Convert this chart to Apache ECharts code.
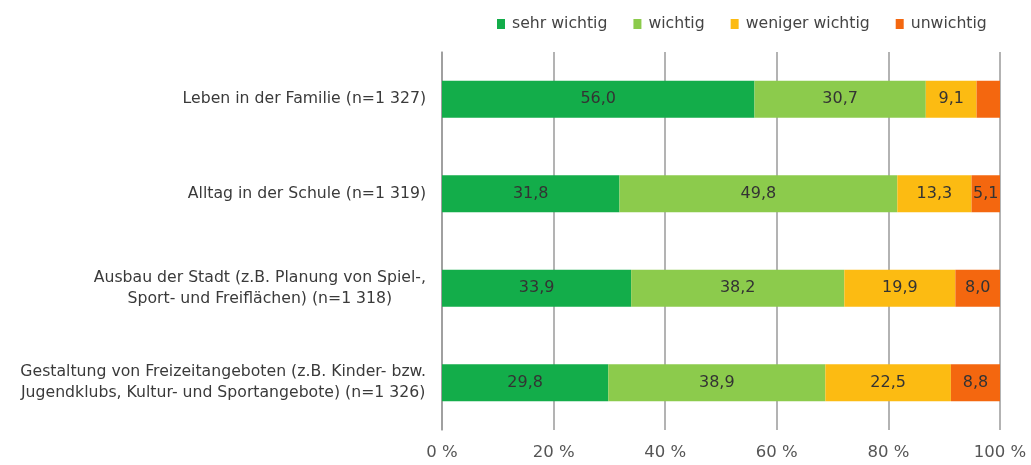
<!DOCTYPE html>
<html>
<head>
<meta charset="utf-8">
<script src="https://cdn.jsdelivr.net/npm/echarts@6/dist/echarts.min.js"></script>
<style>html,body{margin:0;padding:0;background:#fff}#c{width:1031px;height:465px}</style>
</head>
<body>
<div id="c"></div>
<script>
const categories = [
  "Leben in der Familie (n=1 327)",
  "Alltag in der Schule (n=1 319)",
  "Ausbau der Stadt (z.B. Planung von Spiel-,\nSport- und Freiflächen) (n=1 318)",
  "Gestaltung von Freizeitangeboten (z.B. Kinder- bzw.\nJugendklubs, Kultur- und Sportangebote) (n=1 326)"
];
const seriesNames = ["sehr wichtig", "wichtig", "weniger wichtig", "unwichtig"];
const sehrWichtig = [56.0, 31.8, 33.9, 29.8];
const wichtig = [30.7, 49.8, 38.2, 38.9];
const wenigerWichtig = [9.1, 13.3, 19.9, 22.5];
const unwichtig = [4.2, 5.1, 8.0, 8.8];
const xTicks = [0, 20, 40, 60, 80, 100];
const colors = ["#13ad4a", "#8ccb4c", "#fcbb12", "#f4670f"];

const values = [sehrWichtig, wichtig, wenigerWichtig, unwichtig];
const font = "DejaVu Sans";

const chart = echarts.init(document.getElementById('c'));
chart.setOption({
  animation: false,
  textStyle: { fontFamily: font },
  legend: {
    data: seriesNames,
    left: 492, top: 11,
    icon: 'rect', itemWidth: 8, itemHeight: 10, itemGap: 26,
    textStyle: { fontSize: 15.7, color: '#444', fontFamily: font, padding: [0, 0, 0, 2] }
  },
  grid: { left: 442, right: 31, top: 52, bottom: 35 },
  xAxis: {
    type: 'value', min: xTicks[0], max: xTicks[xTicks.length - 1], interval: 20,
    axisLine: { show: false }, axisTick: { show: false },
    splitLine: { show: true, lineStyle: { color: '#9a9a9a', width: 1.5 } },
    axisLabel: { formatter: v => v + ' %', fontSize: 16.5, color: '#555', margin: 14, fontFamily: font }
  },
  yAxis: {
    type: 'category', data: categories, inverse: true,
    axisLine: { show: true, lineStyle: { color: '#9a9a9a', width: 1.5 } },
    axisTick: { show: false },
    axisLabel: {
      margin: 16, align: 'right',
      formatter: v => v.split('\n').map(l => '{c|' + l + '}').join('\n'),
      rich: { c: { align: 'center', fontSize: 15.7, color: '#3a3a3a', lineHeight: 21, fontFamily: font } }
    }
  },
  series: seriesNames.map((name, i) => ({
    name, type: 'bar', stack: 'total', barWidth: 37,
    itemStyle: { color: colors[i] },
    label: {
      show: true, position: 'inside', fontSize: 16, color: '#333', fontFamily: font,
      formatter: p => p.value < 5 ? '' : p.value.toFixed(1).replace('.', ',')
    },
    data: values[i]
  }))
});
</script>
</body>
</html>
